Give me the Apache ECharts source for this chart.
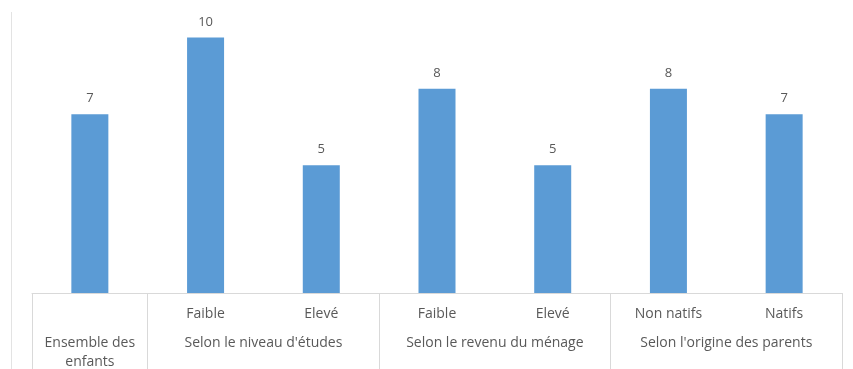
<!DOCTYPE html>
<html>
<head>
<meta charset="utf-8">
<script src="https://cdn.jsdelivr.net/npm/echarts@6/dist/echarts.min.js"></script>
<style>
  html, body { margin: 0; padding: 0; background: #fff; }
  #frame { position: absolute; left: 11px; top: 12px; width: 842px; height: 357px; border-left: 1px solid #e3e3e3; }
  #chart { position: absolute; left: 0; top: 0; width: 853px; height: 369px; }
</style>
</head>
<body>
<div id="frame"></div>
<div id="chart"></div>
<script>
// Sub-category labels (first level of the category axis)
const subLabels = ['', 'Faible', 'Elevé', 'Faible', 'Elevé', 'Non natifs', 'Natifs'];
// Group labels (second level) and the number of bars in each group
const groupLabels = ['Ensemble des\nenfants', "Selon le niveau d'études", 'Selon le revenu du ménage', "Selon l'origine des parents"];
const groupSizes = [1, 2, 2, 2];
// Bar values
const values = [7, 10, 5, 8, 5, 8, 7];

// Second-level axis on half-slot points: group centres carry the labels,
// group boundaries carry the long separator ticks.
const halfCount = subLabels.length * 2 + 1;
const groupAxisData = new Array(halfCount).fill('');
const boundaryIdx = new Set([0]);
let pos = 0;
groupSizes.forEach((n, g) => {
  groupAxisData[pos * 2 + n] = groupLabels[g];
  pos += n;
  boundaryIdx.add(pos * 2);
});

const textColor = '#595959';
const fontFamily = '"Open Sans", "Liberation Sans", sans-serif';

const chart = echarts.init(document.getElementById('chart'));
chart.setOption({
  animation: false,
  grid: { left: 32, right: 11, top: 12, bottom: 76, containLabel: false, outerBoundsMode: 'none' },
  xAxis: [
    {
      type: 'category',
      data: subLabels,
      axisLine: { show: true, lineStyle: { color: '#d9d9d9', width: 1 } },
      axisTick: { show: false },
      axisLabel: { color: textColor, fontSize: 14, fontFamily, margin: 14, interval: 0 }
    },
    {
      type: 'category',
      position: 'bottom',
      boundaryGap: false,
      data: groupAxisData,
      axisLine: { show: false },
      axisTick: {
        show: true,
        length: 80,
        interval: (i) => boundaryIdx.has(i),
        lineStyle: { color: '#d9d9d9', width: 1 }
      },
      axisLabel: { color: textColor, fontSize: 14, fontFamily, margin: 41, interval: 0, lineHeight: 19, verticalAlign: 'top' }
    }
  ],
  yAxis: { type: 'value', min: 0, max: 11, show: false, splitLine: { show: false } },
  series: [{
    type: 'bar',
    xAxisIndex: 0,
    data: values,
    barWidth: 37,
    itemStyle: { color: '#5b9bd5' },
    label: { show: true, position: 'top', distance: 9, color: textColor, fontSize: 13, fontFamily }
  }]
});
</script>
</body>
</html>
